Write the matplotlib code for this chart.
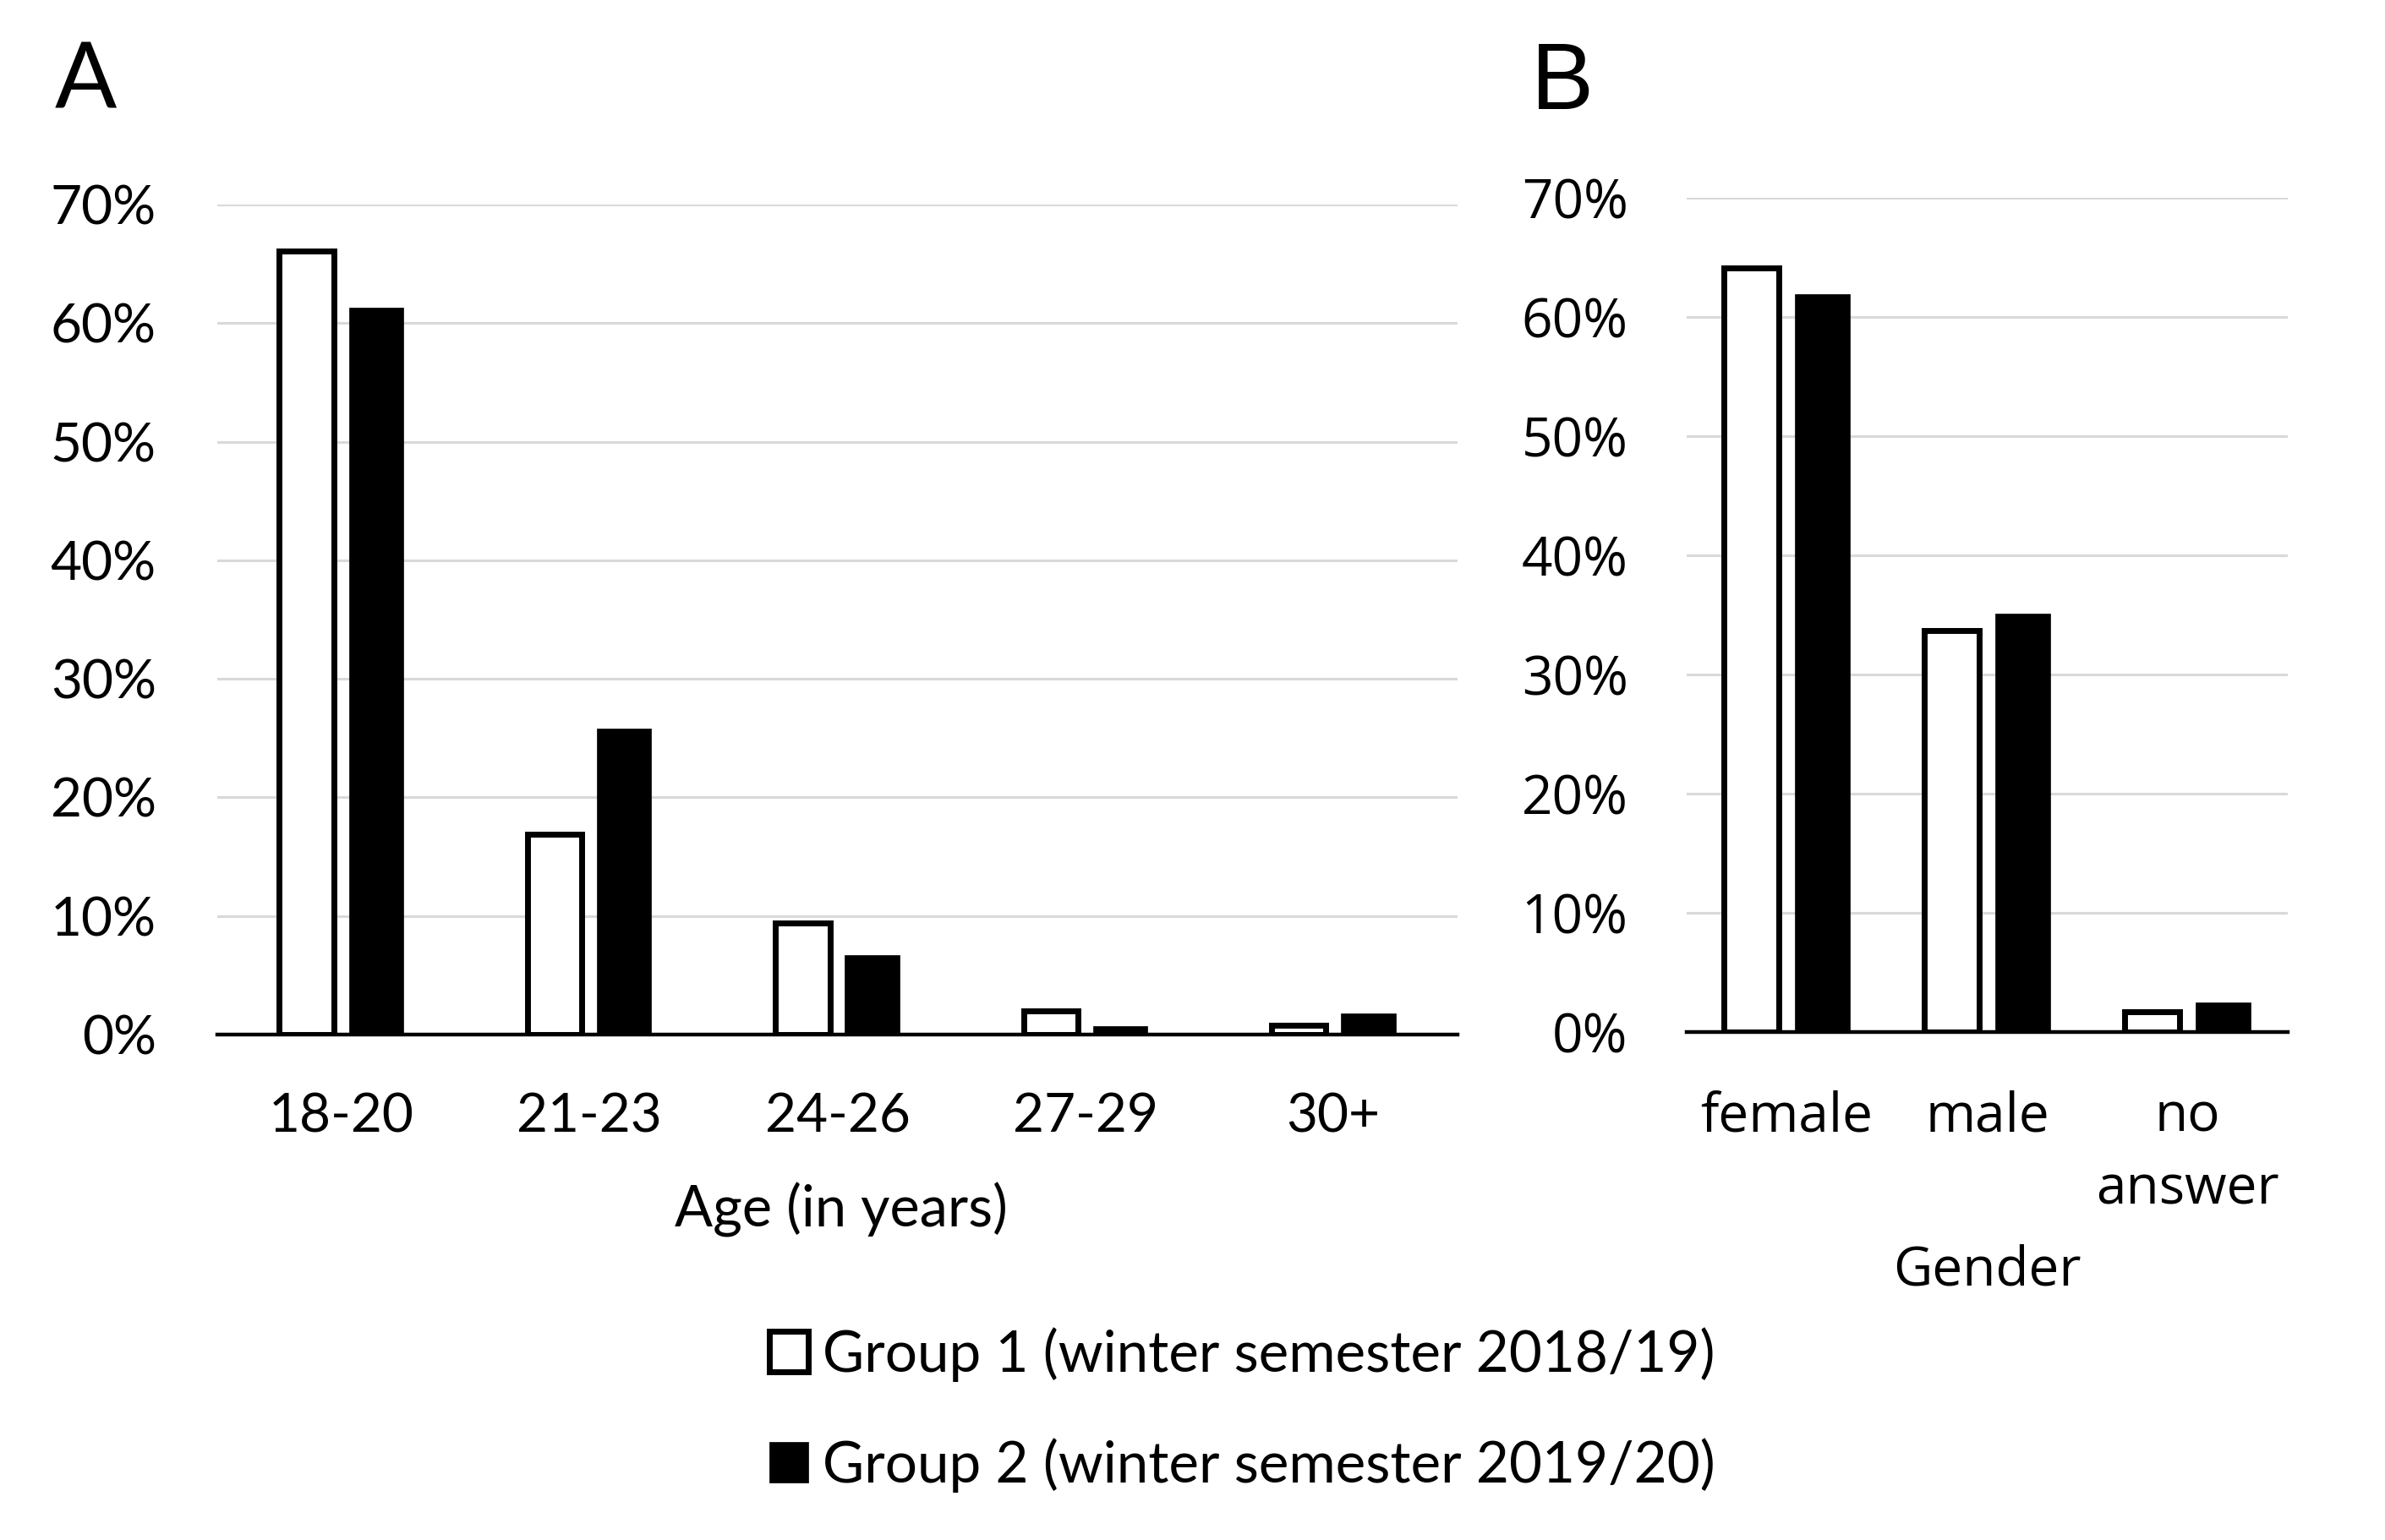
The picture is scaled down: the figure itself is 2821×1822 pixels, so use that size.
import matplotlib
matplotlib.use("Agg")
import matplotlib.pyplot as plt
from matplotlib.ticker import PercentFormatter
import numpy as np

# data (percent of each group)
age_labels = ["18-20", "21-23", "24-26", "27-29", "30+"]
age_group1 = [66.1, 16.9, 9.4, 2.0, 0.8]
age_group2 = [61.3, 25.8, 6.7, 0.7, 1.8]

gender_labels = ["female", "male", "no\nanswer"]
gender_group1 = [64.1, 33.7, 1.7]
gender_group2 = [61.9, 35.1, 2.5]

legend_labels = ["Group 1 (winter semester 2018/19)",
                 "Group 2 (winter semester 2019/20)"]
y_ticks = [0, 10, 20, 30, 40, 50, 60, 70]

plt.rcParams['font.family'] = ['Lato', 'DejaVu Sans']

W, H = 2821, 1822
fig = plt.figure(figsize=(W / 100, H / 100), dpi=100)

def style_axes(ax, font, ypad, xpad):
    ax.set_ylim(0, 70)
    ax.set_yticks(y_ticks)
    ax.yaxis.set_major_formatter(PercentFormatter(xmax=100, decimals=0))
    ax.yaxis.grid(True, color='#d9d9d9', lw=2.2)
    ax.set_axisbelow(True)
    for s in ['top', 'right', 'left']:
        ax.spines[s].set_visible(False)
    ax.spines['bottom'].set_linewidth(3.2)
    ax.spines['bottom'].set_zorder(3)
    ax.tick_params(axis='y', length=0, pad=ypad, labelsize=46)
    ax.tick_params(axis='x', length=0, pad=xpad, labelsize=46)
    for t in ax.get_xticklabels() + ax.get_yticklabels():
        t.set_fontfamily(font)

# panel A: age
axA = fig.add_axes([257 / W, 1 - 1224 / H, 1467 / W, 982 / H])
x = np.arange(len(age_labels))
wA = 0.22
b1 = axA.bar(x - 0.14, age_group1, wA, color='white', edgecolor='black', lw=5, zorder=2)
b2 = axA.bar(x + 0.14, age_group2, wA, color='black', edgecolor='black', lw=0.5, zorder=2)
axA.set_xlim(-0.5, len(age_labels) - 0.5)
axA.set_xticks(x)
axA.set_xticklabels(age_labels)
style_axes(axA, ['Lato', 'DejaVu Sans'], 52, 49)
axA.set_xlabel("Age (in years)", fontsize=48)
axA.xaxis.set_label_coords(0.503, -0.232)
axA.xaxis.label.set_va('baseline')

# panel B: gender
axB = fig.add_axes([1995 / W, 1 - 1221 / H, 711 / W, 987 / H])
xb = np.arange(len(gender_labels))
wB = 0.275
axB.bar(xb - 0.177, gender_group1, wB, color='white', edgecolor='black', lw=5, zorder=2)
axB.bar(xb + 0.177, gender_group2, wB, color='black', edgecolor='black', lw=0.5, zorder=2)
axB.set_xlim(-0.5, len(gender_labels) - 0.5)
axB.set_xticks(xb)
axB.set_xticklabels(gender_labels)
style_axes(axB, ['Open Sans', 'DejaVu Sans'], 50, 49)
for t in axB.get_xticklabels():
    t.set_linespacing(1.45)
    t.set_multialignment('center')
axB.set_xlabel("Gender", fontsize=46, fontfamily=['Open Sans', 'DejaVu Sans'])
axB.xaxis.set_label_coords(0.5, -0.303)
axB.xaxis.label.set_va('baseline')

# panel letters
fig.text(65 / W, 1 - 128 / H, "A", fontsize=78, va='baseline', ha='left')
fig.text(1811 / W, 1 - 129 / H, "B", fontsize=80, va='baseline', ha='left',
         fontfamily=['Liberation Sans', 'DejaVu Sans'])

# legend
fig.legend([b1, b2], legend_labels, loc='upper left',
           bbox_to_anchor=(910 / W, 1 - 1570 / H), frameon=False,
           fontsize=48.5, handlelength=0.68, handleheight=0.72,
           handletextpad=0.25, labelspacing=0.98, borderpad=0, borderaxespad=0)

fig.savefig("out.png", dpi=100, facecolor='white')
